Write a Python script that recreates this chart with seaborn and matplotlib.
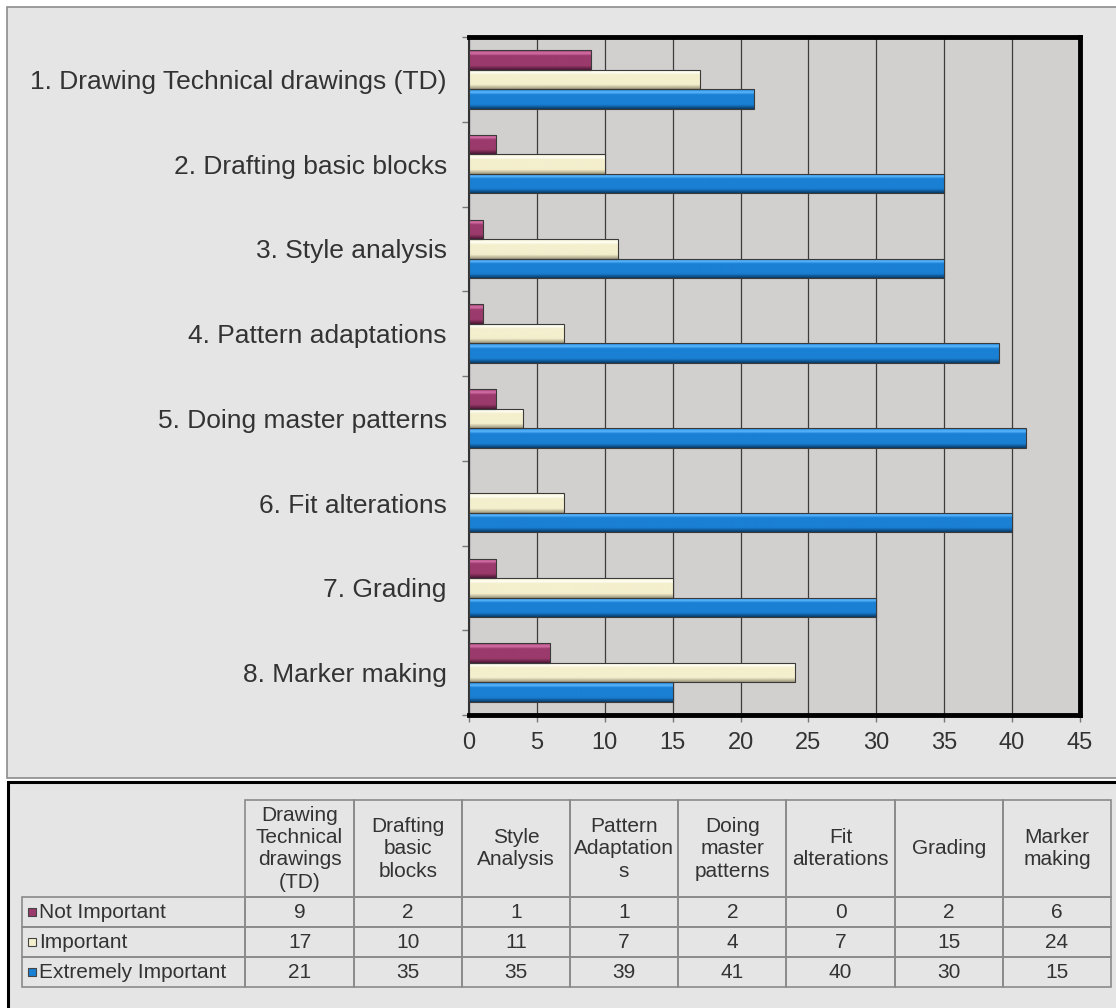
import numpy as np
import pandas as pd
import seaborn as sns
import matplotlib.pyplot as plt
from matplotlib.patches import Rectangle
from matplotlib.colors import LinearSegmentedColormap, to_rgba

tasks = [
    "1. Drawing Technical drawings (TD)",
    "2. Drafting basic blocks",
    "3. Style analysis",
    "4. Pattern adaptations",
    "5. Doing master patterns",
    "6. Fit alterations",
    "7. Grading",
    "8. Marker making",
]
table_headers = [
    "Drawing\nTechnical\ndrawings\n(TD)",
    "Drafting\nbasic\nblocks",
    "Style\nAnalysis",
    "Pattern\nAdaptation\ns",
    "Doing\nmaster\npatterns",
    "Fit\nalterations",
    "Grading",
    "Marker\nmaking",
]
series = ["Not Important", "Important", "Extremely Important"]
not_important = [9, 2, 1, 1, 2, 0, 2, 6]
important = [17, 10, 11, 7, 4, 7, 15, 24]
extremely_important = [21, 35, 35, 39, 41, 40, 30, 15]

colors = ["#9b3a6c", "#f4efcd", "#1a80d4"]
# dark / base / light tones for the bevel look
shades = [
    ("#4a1634", "#9b3a6c", "#d872aa"),
    ("#9c977a", "#f4efcd", "#fffff6"),
    ("#083a68", "#1a80d4", "#5cb8ff"),
]

plt.rcParams['font.family'] = ['Liberation Sans', 'DejaVu Sans']
text_col = "#333333"

df = pd.DataFrame({
    "task": tasks * 3,
    "series": np.repeat(series, len(tasks)),
    "count": not_important + important + extremely_important,
})

fig = plt.figure(figsize=(11.16, 10.08), dpi=100)
fig.patch.set_facecolor("white")

# background panels (behind the axes)
fig.patches.append(Rectangle((7 / 1116, 1 - 778 / 1008), 1.0, 771 / 1008,
                             transform=fig.transFigure, facecolor="#e5e5e5",
                             edgecolor="#8c8c8c", lw=1.2, zorder=-10))
fig.patches.append(Rectangle((8 / 1116, -0.01), 1.0, 1 - 782 / 1008 + 0.01,
                             transform=fig.transFigure, facecolor="#e5e5e5",
                             edgecolor="black", lw=2.2, zorder=-10))

ax = fig.add_axes([469 / 1116, 1 - 715 / 1008, (1080 - 469) / 1116, (715 - 37) / 1008])
ax.set_facecolor("#d2cfcf")

sns.barplot(data=df, y="task", x="count", hue="series", hue_order=series,
            palette=colors, orient="h", width=0.69, saturation=1,
            edgecolor="#3a3a3a", linewidth=0.8, legend=False, ax=ax, zorder=3)

# glossy gradient fill clipped to each bar
cmaps = [LinearSegmentedColormap.from_list(
    f"bev{i}", [(0, d), (0.22, b), (0.72, b), (0.85, l), (1, b)])
    for i, (d, b, l) in enumerate(shades)]
grad = np.linspace(1, 0, 64)[:, None]
for bar in list(ax.patches):
    w = bar.get_width()
    if w <= 0:
        continue
    fc = bar.get_facecolor()
    idx = int(np.argmin([np.sum(np.abs(np.array(fc) - np.array(to_rgba(c)))) for c in colors]))
    x0, y0, h = bar.get_x(), bar.get_y(), bar.get_height()
    im = ax.imshow(grad, cmap=cmaps[idx], vmin=0, vmax=1, origin="upper",
                   extent=(x0, x0 + w, y0 + h, y0), aspect="auto",
                   interpolation="bilinear", zorder=4)
    im.set_clip_path(bar)
    bar.set_facecolor("none")
    bar.set_zorder(5)

ax.set_xlim(0, 45)
ax.set_ylim(len(tasks) - 0.5, -0.5)
ax.set_aspect("auto")
ax.set_xticks(range(0, 46, 5))
ax.set_yticks(np.arange(-0.5, len(tasks)), minor=True)
ax.xaxis.grid(True, color="#3c3c3c", lw=0.9, zorder=1)
ax.yaxis.grid(False)
ax.set_axisbelow(True)
ax.set_xlabel("")
ax.set_ylabel("")
ax.tick_params(axis="y", which="major", length=0, pad=16, labelsize=19, labelcolor=text_col)
ax.tick_params(axis="y", which="minor", length=5, color="#777777", width=1)
ax.tick_params(axis="x", length=5, color="#777777", width=1, pad=7, labelsize=17,
               labelcolor=text_col)
for side in ["top", "right", "bottom"]:
    ax.spines[side].set_color("black")
    ax.spines[side].set_linewidth(3.5)
ax.spines["left"].set_color("#333333")
ax.spines["left"].set_linewidth(1.5)

# data table below the chart; first column carries the series names
tax = fig.add_axes([22 / 1116, 1 - 987 / 1008, (1111 - 22) / 1116, (987 - 800) / 1008])
tax.axis("off")
cell_text = [[str(v) for v in row] for row in (not_important, important, extremely_important)]
cell_text = [[""] + row for row in cell_text]
table = tax.table(cellText=cell_text, colLabels=[""] + table_headers,
                  cellLoc="center", colLoc="center", bbox=[0, 0, 1, 1])
label_w, col_w, head_h, row_h = 223, 108, 98, 30
for r, name in enumerate(series, start=1):
    table.add_cell(r, 0, width=label_w, height=row_h, text=name, loc="left")
table.auto_set_font_size(False)
table.set_fontsize(15)
for (r, c), cell in table.get_celld().items():
    cell.set_edgecolor("#8a8a8a")
    cell.set_facecolor("none")
    cell.set_linewidth(1.2)
    cell.set_height(head_h if r == 0 else row_h)
    if c == 0:
        cell.set_width(label_w)
        cell.PAD = 17 / label_w
    else:
        cell.set_width(col_w)
    t = cell.get_text()
    t.set_color(text_col)
    t.set_linespacing(1.22)
table[0, 0].visible_edges = ""

# small colour keys in front of the series names
total_w = label_w + col_w * len(table_headers)
total_h = head_h + row_h * len(series)
key = 8
for i, c in enumerate(colors):
    yc = 1 - (head_h + row_h * i + row_h / 2) / total_h
    tax.add_patch(Rectangle((6 / total_w, yc - key / 2 / total_h), key / total_w,
                            key / total_h, transform=tax.transAxes, facecolor=c,
                            edgecolor="#444444", lw=0.8, clip_on=False))

fig.savefig("out.png", dpi=100)
